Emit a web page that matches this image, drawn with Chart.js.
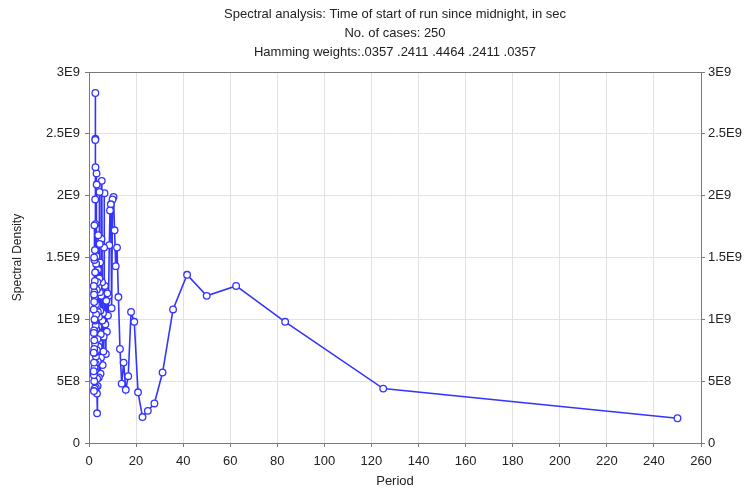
<!DOCTYPE html>
<html>
<head>
<meta charset="utf-8">
<script src="https://cdn.jsdelivr.net/npm/chart.js@4.4.1/dist/chart.umd.min.js"></script>
<style>
  html, body { margin: 0; padding: 0; background: #fff; }
  #wrap { width: 754px; height: 493px; }
</style>
</head>
<body>
<div id="wrap"><canvas id="spectrum" width="754" height="493"></canvas></div>
<script>
// ── Data ──────────────────────────────────
const titleLines = [
  'Spectral analysis: Time of start of run since midnight, in sec',
  'No. of cases: 250',
  'Hamming weights:.0357 .2411 .4464 .2411 .0357'
];

// periods (250 / k), listed from the longest down to 2
const periods = [
  250, 125, 83.33, 62.5, 50, 41.67, 35.71, 31.25, 27.78, 25,
  22.73, 20.83, 19.23, 17.86, 16.67, 15.625, 14.71, 13.89, 13.16, 12.5,
  11.9, 11.36, 10.87, 10.42, 10, 9.615, 9.259, 8.929, 8.621, 8.333,
  8.065, 7.813, 7.576, 7.353, 7.143, 6.944, 6.757, 6.579, 6.41, 6.25,
  6.098, 5.952, 5.814, 5.682, 5.556, 5.435, 5.319, 5.208, 5.102, 5,
  4.902, 4.808, 4.717, 4.63, 4.545, 4.464, 4.386, 4.31, 4.237, 4.167,
  4.098, 4.032, 3.968, 3.906, 3.846, 3.788, 3.731, 3.676, 3.623, 3.571,
  3.521, 3.472, 3.425, 3.378, 3.333, 3.289, 3.247, 3.205, 3.165, 3.125,
  3.086, 3.049, 3.012, 2.976, 2.941, 2.907, 2.874, 2.841, 2.809, 2.778,
  2.747, 2.717, 2.688, 2.66, 2.632, 2.604, 2.577, 2.551, 2.525, 2.5,
  2.475, 2.451, 2.427, 2.404, 2.381, 2.358, 2.336, 2.315, 2.294, 2.273,
  2.252, 2.232, 2.212, 2.193, 2.174, 2.155, 2.137, 2.119, 2.101, 2.083,
  2.066, 2.049, 2.033, 2.016, 2
];

const density = [
  2.0e8, 4.4e8, 9.8e8, 1.27e9, 1.19e9, 1.36e9, 1.08e9, 5.7e8, 3.2e8, 2.6e8,
  2.1e8, 4.1e8, 9.8e8, 1.06e9, 5.4e8, 4.3e8, 6.5e8, 4.8e8, 7.6e8, 1.18e9,
  1.58e9, 1.43e9, 1.72e9, 1.99e9, 1.97e9, 1.09e9, 1.93e9, 1.88e9, 1.6e9, 1.19e9,
  1.03e9, 1.21e9, 9.0e8, 1.15e9, 7.2e8, 9.6e8, 1.27e9, 2.02e9, 1.58e9, 8.6e8,
  7.4e8, 1.05e9, 6.3e8, 9.9e8, 1.3e9, 2.12e9, 1.65e9, 1.19e9, 6.9e8, 8.8e8,
  5.6e8, 1.07e9, 1.46e9, 1.22e9, 1.61e9, 2.03e9, 1.33e9, 8.1e8, 1.02e9, 5.3e8,
  7.8e8, 1.26e9, 9.4e8, 1.68e9, 1.4e9, 1.06e9, 6.6e8, 4.6e8, 8.4e8, 1.3e9,
  1.11e9, 5.2e8, 2.4e8, 4.0e8, 7.5e8, 1.24e9, 2.09e9, 2.18e9, 1.51e9, 9.2e8,
  6.0e8, 1.04e9, 1.45e9, 1.12e9, 7.0e8, 4.5e8, 6.4e8, 9.5e8, 1.38e9, 1.77e9,
  2.23e9, 2.46e9, 2.83e9, 2.45e9, 1.97e9, 1.38e9, 8.0e8, 5.9e8, 9.9e8, 1.56e9,
  1.31e9, 9.0e8, 1.18e9, 7.3e8, 4.4e8, 6.1e8, 1.0e9, 1.48e9, 1.76e9, 1.22e9,
  8.3e8, 5.0e8, 7.6e8, 1.14e9, 1.5e9, 1.2e9, 9.1e8, 6.5e8, 4.2e8, 5.5e8,
  8.9e8, 1.27e9, 1.08e9, 7.3e8, 5.8e8
];

const xTicks = [0, 20, 40, 60, 80, 100, 120, 140, 160, 180, 200, 220, 240, 260];
const yTickLabels = ['0', '5E8', '1E9', '1.5E9', '2E9', '2.5E9', '3E9'];

// ── Styling ───────────────────────────────
const FONT = "'Liberation Sans', Arial, sans-serif";
const AXIS_GRAY = '#7a7a7a';
const GRID_GRAY = '#e2e2e2';
const LINE_BLUE = '#3434ff';

Chart.defaults.font.family = FONT;
Chart.defaults.font.size = 13;
Chart.defaults.color = '#222';

// title lines + frame around the plot box
const framePlugin = {
  id: 'frame',
  afterDraw(chart) {
    const { ctx, chartArea: a } = chart;
    ctx.save();
    ctx.strokeStyle = AXIS_GRAY;
    ctx.lineWidth = 1;
    ctx.strokeRect(Math.round(a.left) + 0.5, Math.round(a.top) + 0.5,
      Math.round(a.right - a.left), Math.round(a.bottom - a.top));
    ctx.fillStyle = '#222';
    ctx.font = `13px ${FONT}`;
    ctx.textAlign = 'center';
    ctx.textBaseline = 'middle';
    const cx = (a.left + a.right) / 2;
    titleLines.forEach((t, i) => ctx.fillText(t, cx, 14 + i * 19));
    ctx.restore();
  }
};

const yTick = v => yTickLabels[Math.round(v / 5e8)] ?? '';

new Chart(document.getElementById('spectrum'), {
  type: 'scatter',
  data: {
    datasets: [{
      data: periods.map((p, i) => ({ x: p, y: density[i] })),
      showLine: true,
      borderColor: LINE_BLUE,
      borderWidth: 1.6,
      pointRadius: 3.3,
      pointBorderWidth: 1.3,
      pointBorderColor: LINE_BLUE,
      pointBackgroundColor: '#fff',
      tension: 0,
    }],
  },
  options: {
    responsive: false,
    animation: false,
    layout: { padding: { top: 72, left: 0, right: 0, bottom: 0 } },
    plugins: { legend: { display: false }, tooltip: { enabled: false } },
    scales: {
      x: {
        type: 'linear',
        min: 0, max: 260,
        afterBuildTicks: s => { s.ticks = xTicks.map(v => ({ value: v })); },
        afterFit: s => { s.height = 50; },
        grid: { color: GRID_GRAY, tickLength: 4, tickColor: AXIS_GRAY },
        border: { color: AXIS_GRAY },
        ticks: { padding: 7, maxRotation: 0, color: '#222' },
        title: { display: true, text: 'Period', font: { size: 13 }, padding: { top: 6 }, color: '#222' },
      },
      y: {
        position: 'left',
        min: 0, max: 3e9,
        afterBuildTicks: s => { s.ticks = yTickLabels.map((_, i) => ({ value: i * 5e8 })); },
        afterFit: s => { s.width = 89; },
        grid: { color: GRID_GRAY, tickLength: 4, tickColor: AXIS_GRAY },
        border: { color: AXIS_GRAY },
        ticks: { callback: yTick, padding: 5, color: '#222' },
        title: { display: true, text: 'Spectral Density', font: { size: 12 }, padding: { top: 10, bottom: 2 }, color: '#222' },
      },
      y2: {
        position: 'right',
        display: true,
        min: 0, max: 3e9,
        afterBuildTicks: s => { s.ticks = yTickLabels.map((_, i) => ({ value: i * 5e8 })); },
        afterFit: s => { s.width = 53; },
        grid: { drawOnChartArea: false, tickLength: 4, tickColor: AXIS_GRAY },
        border: { color: AXIS_GRAY },
        ticks: { callback: yTick, padding: 3, color: '#222' },
      },
    },
  },
  plugins: [framePlugin],
});
</script>
</body>
</html>
